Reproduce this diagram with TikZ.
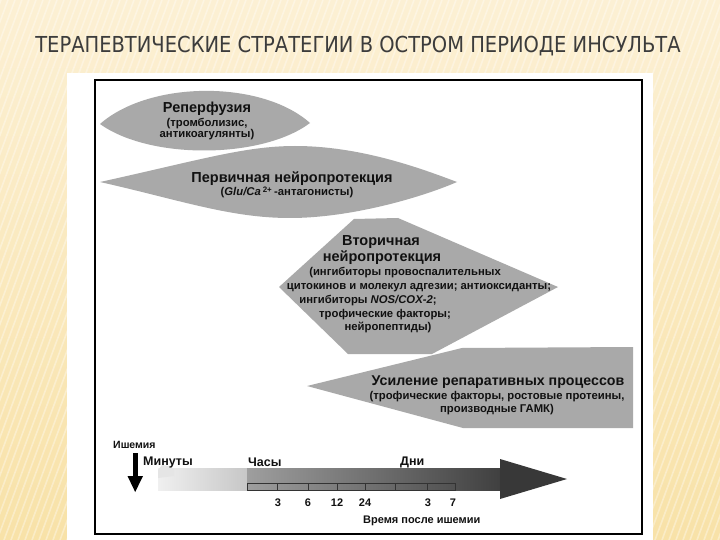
\documentclass[tikz,border=0pt]{standalone}
\usepackage{fontspec}
\setmainfont{Liberation Sans}
\newfontfamily\titlefont{DejaVu Sans}
\definecolor{bgtop}{HTML}{FCF0D4}
\definecolor{bgbot}{HTML}{F8E2A8}
\definecolor{titlecol}{HTML}{3C3C3C}
\definecolor{shapegray}{HTML}{A9A9A9}
\definecolor{ink}{HTML}{111111}
\tikzset{
 hdr/.style={font=\bfseries\fontsize{14.5}{16}\selectfont, text=ink, anchor=base, inner sep=0pt},
 sub/.style={font=\bfseries\fontsize{11.3}{13}\selectfont, text=ink, anchor=base, inner sep=0pt},
 tl/.style={font=\bfseries\fontsize{12.5}{14}\selectfont, text=ink, anchor=base west, inner sep=0pt},
 num/.style={font=\bfseries\fontsize{11}{13}\selectfont, text=ink, anchor=base, inner sep=0pt},
 blob/.style={fill=shapegray, draw=none},
}
\begin{document}
\begin{tikzpicture}[x=1pt,y=-1pt]
\useasboundingbox (0,0) rectangle (720,540);
% background
\shade[top color=bgtop, bottom color=bgbot] (0,0) rectangle (720,540);
\begin{scope}
\clip (0,0) rectangle (720,540);
\foreach \i in {-220,-213,...,720} \draw[white, opacity=0.35, line width=1.6] (\i,540) -- (\i+200,0);
\end{scope}
\node[font=\titlefont\fontsize{22}{24}\selectfont, text=titlecol, inner sep=0pt] (title) at (358,46) {\scalebox{0.886}[1]{ТЕРАПЕВТИЧЕСКИЕ СТРАТЕГИИ В ОСТРОМ ПЕРИОДЕ ИНСУЛЬТА}};
% panel
\fill[white] (67,73) rectangle (653,540);
\draw[black, line width=1.3] (95,80) rectangle (642,534);
% shapes
\path[blob] (100,124) .. controls (150,80) and (262,80) .. (310,123) .. controls (262,159) and (150,160) .. (100,124) -- cycle;
\path[blob] (100,182) .. controls (200,160) and (245,146) .. (295,146) .. controls (360,146) and (420,168) .. (457,182) .. controls (420,198) and (350,218) .. (290,218) .. controls (230,218) and (180,200) .. (100,182) -- cycle;
\path[blob] (279,287) -- (354,219) -- (398,218) -- (558,287) -- (432,354) -- (348,354) -- cycle;
\path[blob] (307,386) -- (462,348) -- (633,347) -- (633,428) -- (463,428) -- cycle;
% texts
\node[hdr] (rp1) at (207,112.5) {Реперфузия};
\node[sub] (rp2) at (207,127) {(тромболизис,};
\node[sub] (rp3) at (207,138) {антикоагулянты)};
\node[hdr] (pn1) at (292,182.5) {Первичная нейропротекция};
\node[sub] (pn2) at (287,196) {(\textit{Glu/Ca}\,\textsuperscript{2+}\,-антагонисты)};
\node[hdr] (sn1) at (381,245) {Вторичная};
\node[hdr] (sn2) at (382,261) {нейропротекция};
\node[sub] (sn3) at (405,275.5) {(ингибиторы провоспалительных};
\node[sub] (sn4) at (419,289.5) {цитокинов и молекул адгезии; антиоксиданты;};
\node[sub] (sn5) at (368,303.5) {ингибиторы \textit{NOS/COX-2};};
\node[sub] (sn6) at (385,317) {трофические факторы;};
\node[sub] (sn7) at (388,330.5) {нейропептиды)};
\node[hdr, font=\bfseries\fontsize{14.2}{16}\selectfont] (ur1) at (498,385.5) {Усиление репаративных процессов};
\node[sub] (ur2) at (497,399) {(трофические факторы, ростовые протеины,};
\node[sub] (ur3) at (497,412) {производные ГАМК)};
% timeline
\shade[left color=white!94!black, right color=white!78!black] (158,468) rectangle (247,490);
\fill[white!90!black] (158,470) -- (162,465) -- (170,466) -- (174,469) -- (174,476) -- (158,478) -- cycle;
\shade[left color=white!62!black, right color=white!25!black] (247,468) rectangle (501,490);
\fill[white!22!black] (500,459) -- (567,479) -- (500,499) -- cycle;
\draw[line width=0.6, black!80] (247,483) rectangle (455,490);
\foreach \x in {277,308,337,365,395,427} \draw[line width=0.6, black!80] (\x,483) -- (\x,490);
\fill[black] (133,453) rectangle (137.5,477);
\fill[black] (127.5,476) -- (143,476) -- (135.2,492) -- cycle;
\node[tl, font=\bfseries\fontsize{10.5}{12}\selectfont] (isch) at (113,448) {Ишемия};
\node[tl] (min) at (143,465) {Минуты};
\node[tl] (hrs) at (248,466) {Часы};
\node[tl] (days) at (400,465) {Дни};
\node[num] (n3) at (278,506) {3};
\node[num] (n6) at (308,506) {6};
\node[num] (n12) at (337,506) {12};
\node[num] (n24) at (365,506) {24};
\node[num] (d3) at (428,506) {3};
\node[num] (d7) at (453,506) {7};
\node[num, anchor=base west] (tpost) at (363,523) {Время после ишемии};
\end{tikzpicture}
\end{document}
